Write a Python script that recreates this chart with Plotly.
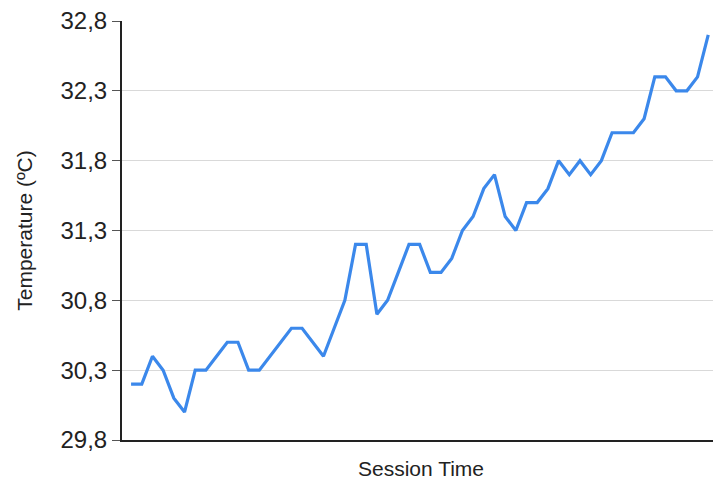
import plotly.graph_objects as go

# session samples (index) and temperature readings
session = list(range(55))
temperature = [
    30.2, 30.2, 30.4, 30.3, 30.1, 30.0, 30.3, 30.3, 30.4, 30.5,
    30.5, 30.3, 30.3, 30.4, 30.5, 30.6, 30.6, 30.5, 30.4, 30.6,
    30.8, 31.2, 31.2, 30.7, 30.8, 31.0, 31.2, 31.2, 31.0, 31.0,
    31.1, 31.3, 31.4, 31.6, 31.7, 31.4, 31.3, 31.5, 31.5, 31.6,
    31.8, 31.7, 31.8, 31.7, 31.8, 32.0, 32.0, 32.0, 32.1, 32.4,
    32.4, 32.3, 32.3, 32.4, 32.7,
]
y_ticks = [29.8, 30.3, 30.8, 31.3, 31.8, 32.3, 32.8]

fig = go.Figure()
fig.add_trace(go.Scatter(
    x=session, y=temperature, mode="lines",
    line=dict(color="#3b88eb", width=3.2),
    showlegend=False,
))

# page body adds an 8px offset, so the figure is sized a bit smaller
fig.update_layout(
    width=713, height=475,
    margin=dict(l=114, r=1, t=13, b=43),
    paper_bgcolor="white", plot_bgcolor="white",
    separators=",.",
    font=dict(family="Liberation Sans, Arial, sans-serif", color="#222222"),
)
fig.update_xaxes(
    range=[-0.85, 55.1], automargin=False,
    showticklabels=False, ticks="", showgrid=False, zeroline=False,
    showline=True, linecolor="#222222", linewidth=2,
    title=dict(text="Session Time", font=dict(size=21), standoff=20),
)
fig.update_yaxes(
    range=[29.8, 32.8], tickvals=y_ticks, tickformat=".1f", automargin=False,
    ticks="outside", ticklen=8, tickcolor="#555555",
    tickfont=dict(size=24), ticklabeloverflow="allow",
    showgrid=True, gridcolor="#d9d9d9", gridwidth=1, zeroline=False,
    showline=True, linecolor="#222222", linewidth=2,
    title=dict(text="Temperature (ºC)", font=dict(size=21), standoff=22),
)

fig.write_html("out.html")
